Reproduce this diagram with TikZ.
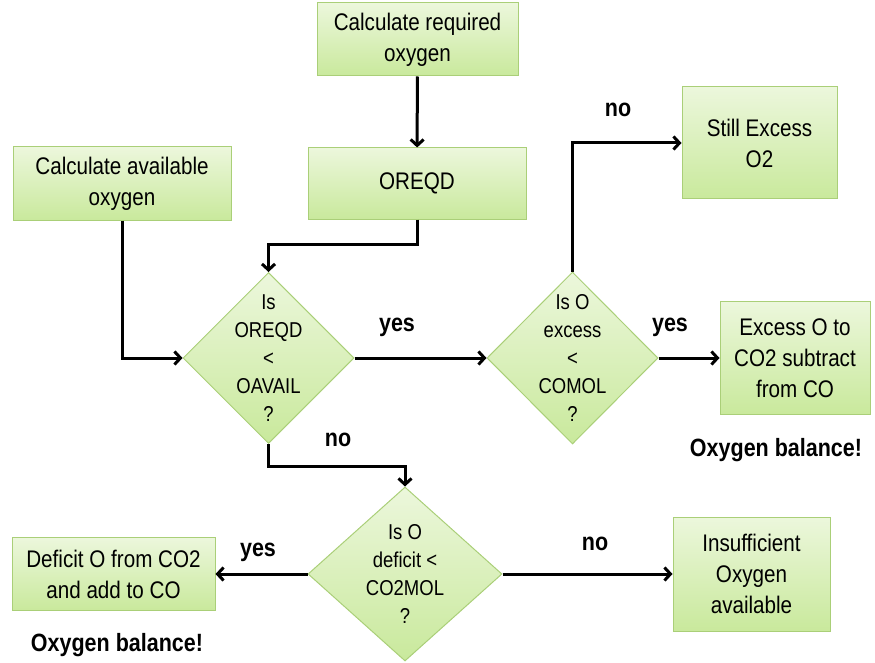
\documentclass[tikz,border=0pt]{standalone}
\usepackage{fontspec}
\setmainfont[FakeStretch=0.86]{Liberation Sans}
\usetikzlibrary{shapes.geometric,arrows.meta}
\definecolor{boxtop}{HTML}{ECF7DC}
\definecolor{boxbot}{HTML}{C9E99C}
\definecolor{boxline}{HTML}{AACF78}
\begin{document}
\begin{tikzpicture}[x=1pt,y=-1pt,
	box/.style={draw=boxline,line width=1pt,top color=boxtop,bottom color=boxbot,
		align=center,inner sep=0pt,font=\fontsize{24}{31}\selectfont},
	decision/.style={diamond,draw=boxline,line width=1pt,top color=boxtop,bottom color=boxbot,
		align=center,aspect=1,inner xsep=-20pt,inner ysep=-60pt,
		font=\fontsize{21.5}{28}\selectfont},
	lbl/.style={font=\bfseries\fontsize{25}{28}\selectfont,inner sep=0pt},
	arr/.style={line width=3pt,-{Straight Barb[length=6pt,width=13pt]}}]
		\useasboundingbox (0,0) rectangle (875,663);
		% boxes
		\node[box,minimum width=201pt,minimum height=73pt] (req) at (417.5,39.5){Calculate required\\oxygen};
		\node[box,minimum width=218pt,minimum height=71pt] (oreqd) at (417,183.5){OREQD};
		\node[box,minimum width=218pt,minimum height=73pt] (avail) at (122,183.5){Calculate available\\oxygen};
		\node[box,minimum width=155pt,minimum height=112pt] (still) at (759.5,143){Still Excess\\O2};
		\node[box,minimum width=150pt,minimum height=113pt] (excess) at (795,358){Excess O to\\CO2 subtract\\from CO};
		\node[box,minimum width=203pt,minimum height=73pt] (deficit) at (113.5,574){Deficit O from CO2\\and add to CO};
		\node[box,minimum width=157pt,minimum height=114pt] (insuff) at (751.5,574){Insufficient\\Oxygen\\available};
		% decisions
		\node[decision,minimum width=171pt,minimum height=171pt] (d1) at (268.5,358){Is\\OREQD\\<\\OAVAIL\\?};
		\node[decision,minimum width=171pt,minimum height=172pt] (d2) at (572.5,358){Is O\\excess\\<\\COMOL\\?};
		\node[decision,minimum width=194pt,minimum height=174pt] (d3) at (405,574){Is O\\deficit <\\CO2MOL\\?};
		% texts
		\node[lbl] (bal1) at (776,450){Oxygen balance!};
		\node[lbl] (bal2) at (117,645){Oxygen balance!};
		\node[lbl] (yes1) at (397,327){yes};
		\node[lbl] (no1) at (618,110){no};
		\node[lbl] (yes2) at (670,327){yes};
		\node[lbl] (no2) at (338,440){no};
		\node[lbl] (yes3) at (258,552){yes};
		\node[lbl] (no3) at (595,544){no};
		% connectors
		\draw[arr] (req)--(oreqd);
		\draw[arr] (oreqd.south)--++(0,25)-|(d1.north);
		\draw[arr] (avail.south)|-(d1.west);
		\draw[arr] (d1.east)--(d2.west);
		\draw[arr] (d2.north)|-(still.west);
		\draw[arr] (d2.east)--(excess.west);
		\draw[arr] (d1.south)--++(0,22)-|(d3.north);
		\draw[arr] (d3.west)--(deficit.east);
		\draw[arr] (d3.east)--(insuff.west);
		\end{tikzpicture}
\end{document}
